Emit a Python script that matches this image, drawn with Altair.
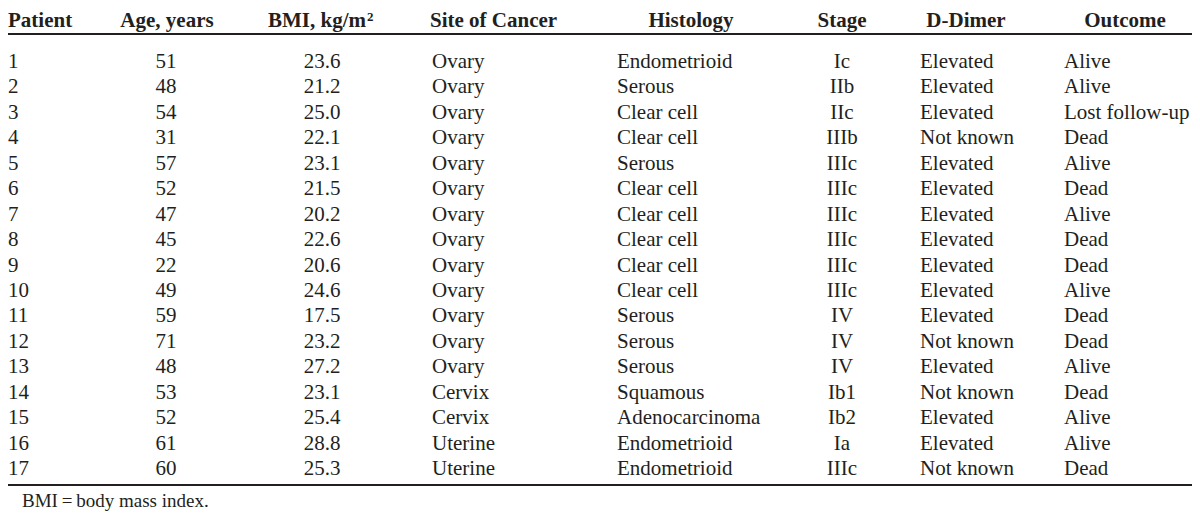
import altair as alt
import pandas as pd

# ---- data ----
patient = list(range(1, 18))
age = [51, 48, 54, 31, 57, 52, 47, 45, 22, 49, 59, 71, 48, 53, 52, 61, 60]
bmi = [23.6, 21.2, 25.0, 22.1, 23.1, 21.5, 20.2, 22.6, 20.6, 24.6, 17.5, 23.2, 27.2, 23.1, 25.4, 28.8, 25.3]
site = ["Ovary"] * 13 + ["Cervix", "Cervix", "Uterine", "Uterine"]
histology = ["Endometrioid", "Serous", "Clear cell", "Clear cell", "Serous", "Clear cell",
             "Clear cell", "Clear cell", "Clear cell", "Clear cell", "Serous", "Serous",
             "Serous", "Squamous", "Adenocarcinoma", "Endometrioid", "Endometrioid"]
stage = ["Ic", "IIb", "IIc", "IIIb", "IIIc", "IIIc", "IIIc", "IIIc", "IIIc", "IIIc",
         "IV", "IV", "IV", "Ib1", "Ib2", "Ia", "IIIc"]
ddimer = ["Elevated", "Elevated", "Elevated", "Not known", "Elevated", "Elevated", "Elevated",
          "Elevated", "Elevated", "Elevated", "Elevated", "Not known", "Elevated", "Not known",
          "Elevated", "Elevated", "Not known"]
outcome = ["Alive", "Alive", "Lost follow-up", "Dead", "Alive", "Dead", "Alive", "Dead", "Dead",
           "Alive", "Dead", "Dead", "Alive", "Dead", "Alive", "Alive", "Dead"]
headers = ["Patient", "Age, years", "BMI, kg/m", "Site of Cancer", "Histology", "Stage",
           "D-Dimer", "Outcome"]
superscript = ["2"]
footnote = ["BMI\u2009=\u2009body mass index."]

df = pd.DataFrame({
    "Patient": patient, "Age": age, "BMI": bmi, "Site": site, "Histology": histology,
    "Stage": stage, "DDimer": ddimer, "Outcome": outcome,
})
hdr = pd.DataFrame({"h": headers})

W, H = 1184, 504
FONT = "Liberation Serif"
INK = "#231f20"
FS = 21
HY = 19  # header baseline

yscale = alt.Scale(domain=[1, 17], range=[60, 467])
base = alt.Chart(df)

# (field, x, align, format)
cols = [
    ("Patient", 0, "left", "d"),
    ("Age", 158, "center", "d"),
    ("BMI", 314, "center", ".1f"),
    ("Site", 424, "left", None),
    ("Histology", 609, "left", None),
    ("Stage", 834, "center", None),
    ("DDimer", 912, "left", None),
    ("Outcome", 1056, "left", None),
]

layers = []
for field, x, align, fmt in cols:
    if fmt:
        txt = alt.Text(f"{field}:Q", format=fmt)
    else:
        txt = alt.Text(f"{field}:N")
    layers.append(
        base.mark_text(align=align, baseline="alphabetic", font=FONT, fontSize=FS, color=INK)
        .encode(x=alt.value(x), y=alt.Y("Patient:Q", scale=yscale, axis=None), text=txt)
    )

# headers: (name, x, align)
hpos = [
    ("Patient", 0, "left"),
    ("Age, years", 159, "center"),
    ("BMI, kg/m", 260, "left"),
    ("Site of Cancer", 422, "left"),
    ("Histology", 683, "center"),
    ("Stage", 834, "center"),
    ("D-Dimer", 958, "center"),
    ("Outcome", 1117, "center"),
]
hbase = alt.Chart(hdr)
for name, x, align in hpos:
    layers.append(
        hbase.transform_filter(alt.datum.h == name)
        .mark_text(align=align, baseline="alphabetic", font=FONT, fontSize=FS,
                   fontWeight="bold", color=INK)
        .encode(x=alt.value(x), y=alt.value(HY), text="h:N")
    )

layers.append(
    alt.Chart(pd.DataFrame({"s": superscript}))
    .mark_text(align="left", baseline="alphabetic", font=FONT, fontSize=13,
               fontWeight="bold", color=INK, dx=99, dy=-6)
    .encode(x=alt.value(260), y=alt.value(HY), text="s:N")
)

rule_df = pd.DataFrame({"r": [0]})
for yy in (26, 477):
    layers.append(
        alt.Chart(rule_df).mark_rule(color=INK, strokeWidth=1.8)
        .encode(x=alt.value(0), x2=alt.value(W), y=alt.value(yy))
    )

layers.append(
    alt.Chart(pd.DataFrame({"f": footnote}))
    .mark_text(align="left", baseline="alphabetic", font=FONT, fontSize=19, color=INK)
    .encode(x=alt.value(14), y=alt.value(499), text="f:N")
)

chart = (
    alt.layer(*layers)
    .properties(width=W, height=H, padding=0, autosize=alt.AutoSizeParams(type="none"))
    .configure_view(stroke=None)
)

chart.save("out.html", embed_options={"renderer": "svg", "actions": False})
